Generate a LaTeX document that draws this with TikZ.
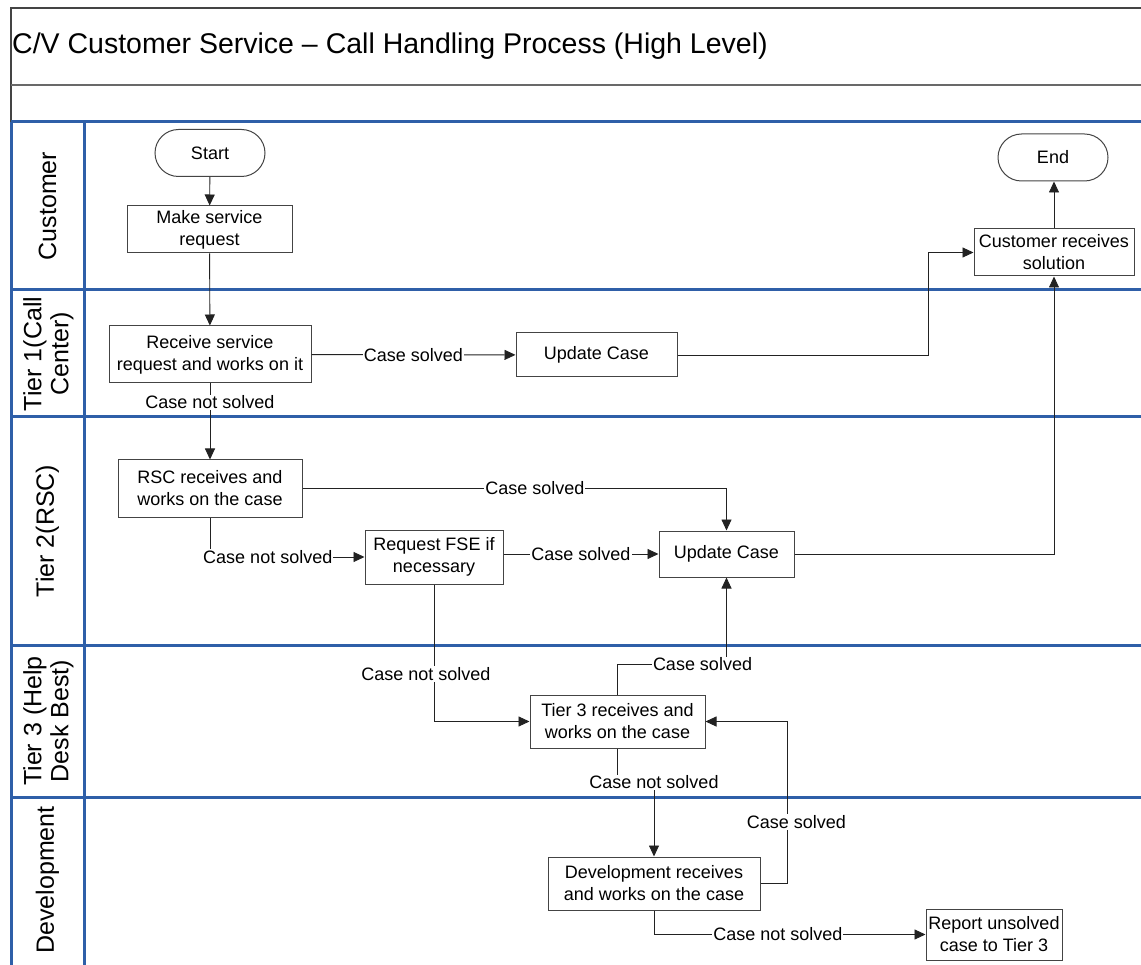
\documentclass[tikz,border=0pt]{standalone}
\usepackage{fontspec}
\setmainfont{Liberation Sans}
\usetikzlibrary{arrows.meta,shapes.misc}
\definecolor{laneblue}{HTML}{2F5FA8}
\definecolor{boxline}{HTML}{444444}
\definecolor{wire}{HTML}{222222}
\begin{document}
\begin{tikzpicture}[x=1pt,y=-1pt,
  every node/.style={inner sep=0pt},
  txt/.style={font=\fontsize{18}{22}\selectfont},
  procbox/.style={txt,draw=boxline,line width=1pt,fill=white,align=center},
  termbox/.style={txt,draw=boxline,line width=1pt,fill=white,rounded rectangle,
    minimum width=110pt,minimum height=47pt},
  lanelabel/.style={font=\fontsize{25}{27}\selectfont,rotate=90,align=center},
  arr/.style={draw=wire,line width=0.9pt,-{Triangle[length=11pt,width=10pt]}},
  lbl/.style={txt,fill=white,inner sep=1pt}]
\useasboundingbox (0,0) rectangle (1141,965);

% title frame
\draw[draw=boxline,line width=1.5pt] (11,965) -- (11,8) -- (1141,8);
\draw[draw=boxline!80,line width=2pt] (11,85) -- (1141,85);
\node[anchor=west,font=\fontsize{28.5}{30}\selectfont] (title) at (12,46)
  {C/V Customer Service -- Call Handling Process (High Level)};

% swimlanes
\foreach \yy in {122,290,417,645,797}
  \draw[laneblue,line width=3pt] (11,\yy) -- (1141,\yy);
\draw[laneblue,line width=3pt] (11,122) -- (11,965);
\draw[laneblue,line width=3pt] (84,122) -- (84,965);

\node[lanelabel] (lcust) at (47.5,206) {Customer};
\node[lanelabel] (ltier1) at (48.5,354) {Tier 1(Call\\Center)};
\node[lanelabel] (ltier2) at (47.5,531) {Tier 2(RSC)};
\node[lanelabel] (ltier3) at (48.5,721) {Tier 3 (Help\\Desk Best)};
\node[lanelabel] (ldev) at (47.5,880) {Development};

% process steps
\node[termbox] (start) at (210,153) {Start};
\node[termbox] (end) at (1053,157.5) {End};
\node[procbox,minimum width=165pt,minimum height=47pt] (make) at (209.5,229.5) {Make service\\request};
\node[procbox,minimum width=202pt,minimum height=57pt] (recv) at (210,354.5) {Receive service\\request and works on it};
\node[procbox,minimum width=161pt,minimum height=44pt] (upd1) at (596.5,355) {Update Case};
\node[procbox,minimum width=160pt,minimum height=47pt] (cust) at (1054,252.5) {Customer receives\\solution};
\node[procbox,minimum width=184pt,minimum height=57pt] (rsc) at (210,488.5) {RSC receives and\\works on the case};
\node[procbox,minimum width=138pt,minimum height=54pt] (fse) at (434,557) {Request FSE if\\necessary};
\node[procbox,minimum width=135pt,minimum height=46pt] (upd2) at (726.5,554) {Update Case};
\node[procbox,minimum width=175pt,minimum height=53pt] (t3) at (617.5,721.5) {Tier 3 receives and\\works on the case};
\node[procbox,minimum width=212pt,minimum height=53pt] (dev) at (654,883.5) {Development receives\\and works on the case};
\node[procbox,minimum width=136pt,minimum height=51pt] (rep) at (994,934.5) {Report unsolved\\case to Tier 3};

% connectors
\draw[arr] (start) -- (make);
\draw[arr] (make) -- (recv);
\draw[arr] (recv) -- node[lbl]{Case solved} (upd1);
\draw[arr] (recv) -- node[lbl,pos=0.25]{Case not solved} (rsc);
\draw[arr] (upd1.east) -| ([xshift=-45pt]cust.west) -- (cust.west);
\draw[arr] (cust.north) -- (cust.north |- end.south);
\draw[arr] (rsc.east) -| node[lbl,pos=0.274]{Case solved} (upd2.north);
\draw[arr] (rsc.south) |- node[lbl,pos=0.687]{Case not solved} (fse.west);
\draw[arr] (fse.east |- upd2.west) -- node[lbl]{Case solved} (upd2.west);
\draw[arr] (upd2.east) -| (cust.south);
\draw[arr] (fse.south) |- node[lbl,pos=0.327,xshift=-8pt]{Case not solved} (t3.west);
\draw[arr] (t3.north) -- ++(0,-30) -| node[lbl,pos=0.39]{Case solved} (upd2.south);
\draw[arr] (t3.south) -- ++(0,34) -| node[lbl,pos=0.5]{Case not solved} (dev.north);
\draw[arr] (dev.east) -- ++(27,0) |- node[lbl,pos=0.19,xshift=9pt]{Case solved} (t3.east);
\draw[arr] (dev.south) |- node[lbl,pos=0.728]{Case not solved} (rep.west);
\end{tikzpicture}
\end{document}
